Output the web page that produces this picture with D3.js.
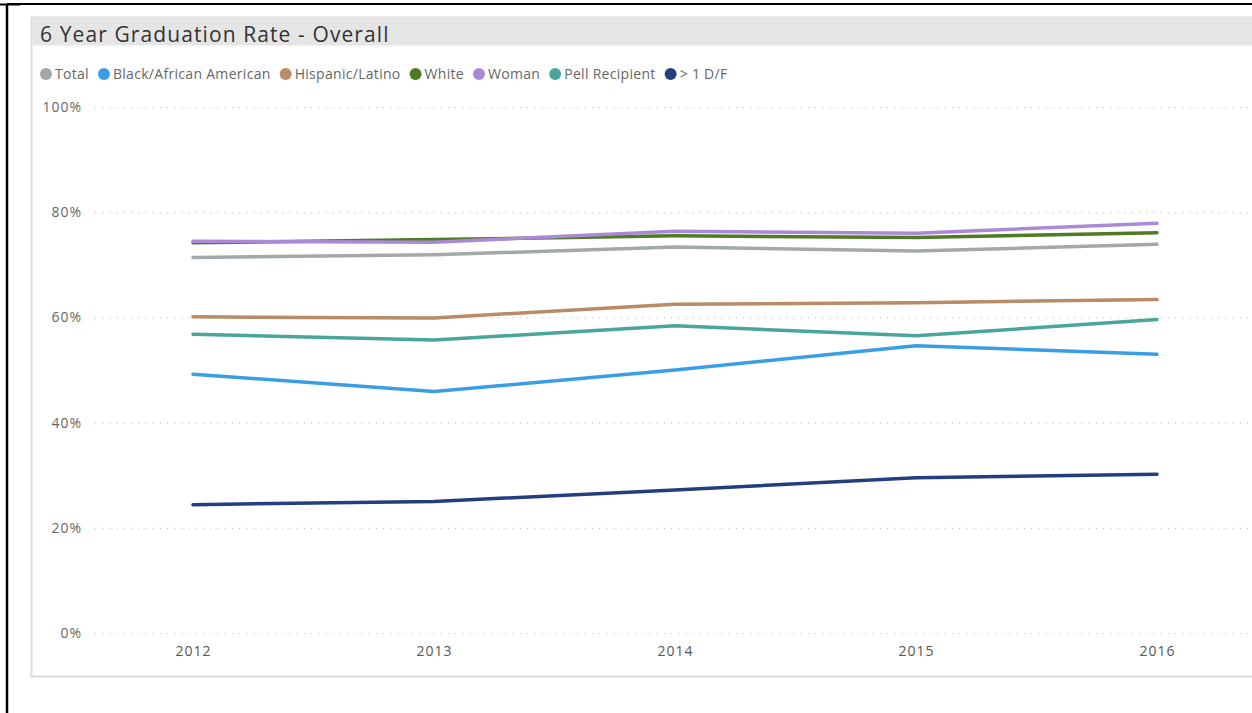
<!DOCTYPE html>
<html><head><meta charset="utf-8">
<script src="https://cdn.jsdelivr.net/npm/d3@7/dist/d3.min.js"></script>
<style>html,body{margin:0;padding:0;background:#fff;}svg{display:block;}</style>
</head><body>
<svg id="c" width="1252" height="713"></svg>
<script>
const years = ["2012","2013","2014","2015","2016"];
const seriesNames = ["Total","Black/African American","Hispanic/Latino","White","Woman","Pell Recipient","> 1 D/F"];
const seriesColors = ["#a3a8ab","#3a9ee4","#b98b66","#4f7b25","#aa8ad6","#4aa69b","#243f80"];
const totalVals    = [71.4, 71.9, 73.4, 72.6, 73.9];
const blackVals    = [49.2, 45.9, 50.0, 54.6, 53.0];
const hispanicVals = [60.1, 59.9, 62.5, 62.8, 63.4];
const whiteVals    = [74.2, 74.8, 75.5, 75.2, 76.1];
const womanVals    = [74.5, 74.3, 76.4, 76.0, 77.9];
const pellVals     = [56.8, 55.7, 58.4, 56.5, 59.6];
const dfVals       = [24.4, 25.0, 27.2, 29.5, 30.2];
const yTicks = [0, 20, 40, 60, 80, 100];

const allVals = [totalVals, blackVals, hispanicVals, whiteVals, womanVals, pellVals, dfVals];
// draw order: back to front
const drawOrder = [0, 3, 4, 2, 5, 1, 6];

const svg = d3.select("#c");
const font = "'Open Sans', 'Noto Sans', sans-serif";

// outer black frame
svg.append("line").attr("x1",7).attr("x2",1252).attr("y1",4).attr("y2",4).attr("stroke","#000").attr("stroke-width",2);
svg.append("line").attr("x1",7).attr("x2",7).attr("y1",4).attr("y2",713).attr("stroke","#000").attr("stroke-width",2.5);
svg.append("line").attr("x1",0).attr("x2",20).attr("y1",4.5).attr("y2",4.5).attr("stroke","#000").attr("stroke-width",2);

// panel
svg.append("rect").attr("x",31.5).attr("y",17.5).attr("width",1240).attr("height",659).attr("fill","#fff").attr("stroke","#dcdcdc").attr("stroke-width",2);
svg.append("rect").attr("x",32.5).attr("y",17.5).attr("width",1230).attr("height",28).attr("fill","#e5e5e5");
svg.append("text").attr("x",40).attr("y",42).attr("font-family",font).attr("font-size",21).attr("letter-spacing",1.1).attr("fill","#333")
  .text("6 Year Graduation Rate - Overall");

// legend
let lx = 46;
const legend = svg.append("g");
seriesNames.forEach((n,i)=>{
  legend.append("circle").attr("cx",lx).attr("cy",74).attr("r",6).attr("fill",seriesColors[i]);
  const t = legend.append("text").attr("x",lx+9).attr("y",79).attr("font-family",font).attr("font-size",14).attr("letter-spacing",0.3).attr("fill","#666").text(n);
  lx += 9 + t.node().getComputedTextLength() + 15;
});

const x = d3.scalePoint().domain(years).range([193,1157]);
const y = d3.scaleLinear().domain([0,100]).range([633,107]);

// y axis grid
const yAxis = d3.axisLeft(y).tickValues(yTicks).tickFormat(d=>d+"%").tickSize(0).tickPadding(0);
const gy = svg.append("g").attr("transform","translate(82,0)").call(yAxis);
gy.select(".domain").remove();
gy.selectAll("text").attr("font-family",font).attr("font-size",14).attr("letter-spacing",1).attr("fill","#666");
const grid = d3.axisLeft(y).tickValues(yTicks).tickSize(-1157).tickFormat("");
const gg = svg.append("g").attr("transform","translate(95,0)").call(grid);
gg.select(".domain").remove();
gg.selectAll("line").attr("stroke","#c8c8c8").attr("stroke-width",1.2).attr("stroke-dasharray","1.2,6");

// x axis
const xAxis = d3.axisBottom(x).tickSize(0).tickPadding(0);
const gx = svg.append("g").attr("transform","translate(0,644)").call(xAxis);
gx.select(".domain").remove();
gx.selectAll("text").attr("font-family",font).attr("font-size",14).attr("letter-spacing",1).attr("fill","#555").attr("dy","0.85em");

const line = d3.line().x((d,i)=>x(years[i])).y(d=>y(d));
drawOrder.forEach(i=>{
  svg.append("path").datum(allVals[i]).attr("d",line).attr("fill","none")
    .attr("stroke",seriesColors[i]).attr("stroke-width",3.5).attr("stroke-linecap","round").attr("stroke-linejoin","round");
});
</script>
</body></html>
